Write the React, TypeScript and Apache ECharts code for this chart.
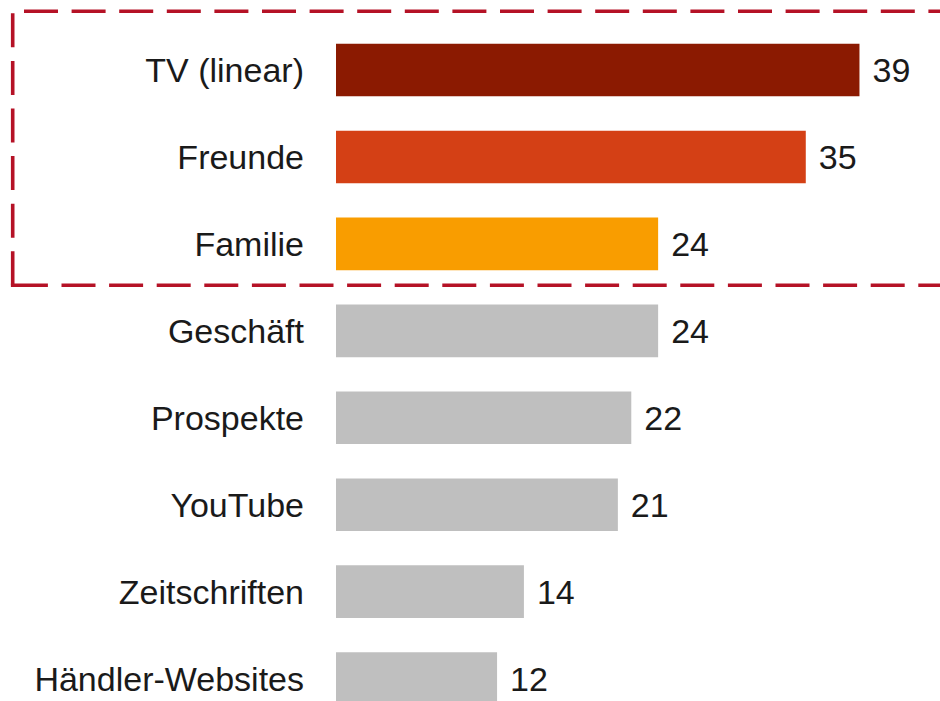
import React, { useEffect, useRef } from "react";
import * as echarts from "echarts";

const categories = [
  "TV (linear)",
  "Freunde",
  "Familie",
  "Geschäft",
  "Prospekte",
  "YouTube",
  "Zeitschriften",
  "Händler-Websites",
];
const values = [39, 35, 24, 24, 22, 21, 14, 12];

const highlightColors = ["#8B1A01", "#D44015", "#F99D00"];
const baseColor = "#BFBFBF";
const frameColor = "#B51226";
const textColor = "#1A1A1A";
const fontFamily = "'Liberation Sans', Arial, sans-serif";

export default function App() {
  const ref = useRef<HTMLDivElement>(null);

  useEffect(() => {
    document.body.style.margin = "0";
    if (!ref.current) return;
    const chart = echarts.init(ref.current, undefined, { renderer: "svg" });
    const W = 940;
    const dash = [34, 13.6];
    const bottomDash: number[] = [37, 13.6];
    for (let i = 0; i < 20; i++) bottomDash.push(34, 13.6);
    chart.setOption({
      animation: false,
      backgroundColor: "#ffffff",
      grid: {
        left: 336,
        right: W - 336 - (525 / 39) * 45,
        top: 26.6,
        bottom: 0,
        containLabel: false,
      },
      xAxis: {
        type: "value",
        min: 0,
        max: 45,
        show: false,
      },
      yAxis: {
        type: "category",
        inverse: true,
        data: categories,
        axisLine: { show: false },
        axisTick: { show: false },
        splitLine: { show: false },
        axisLabel: {
          margin: 32,
          fontSize: 34,
          fontFamily,
          color: textColor,
        },
      },
      series: [
        {
          type: "bar",
          barCategoryGap: "39.5%",
          data: values.map((v, i) => ({
            value: v,
            itemStyle: { color: highlightColors[i] ?? baseColor },
          })),
          label: {
            show: true,
            position: "right",
            distance: 13,
            fontSize: 34,
            fontFamily,
            color: textColor,
          },
        },
      ],
      graphic: [
        {
          type: "line",
          shape: { x1: 24, y1: 11.3, x2: W, y2: 11.3 },
          style: { stroke: frameColor, lineWidth: 3.6, lineDash: dash },
          silent: true,
        },
        {
          type: "line",
          shape: { x1: 12.7, y1: 13.3, x2: 12.7, y2: 287 },
          style: { stroke: frameColor, lineWidth: 3.6, lineDash: dash },
          silent: true,
        },
        {
          type: "line",
          shape: { x1: 10.9, y1: 285.3, x2: W, y2: 285.3 },
          style: { stroke: frameColor, lineWidth: 3.6, lineDash: bottomDash },
          silent: true,
        },
      ],
    });
    return () => chart.dispose();
  }, []);

  return (
    <div style={{ width: 940, height: 701, overflow: "hidden" }}>
      <div ref={ref} style={{ width: 940, height: 722 }} />
    </div>
  );
}
